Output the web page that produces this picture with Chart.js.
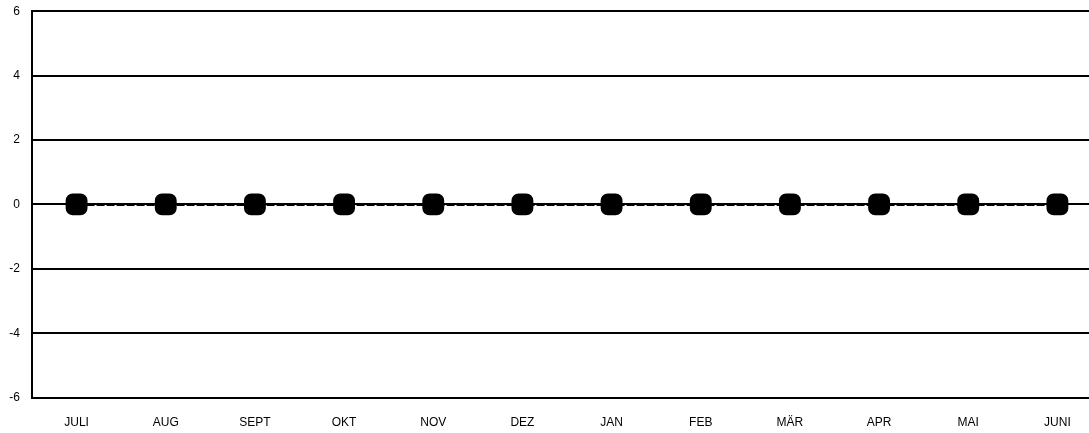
<!DOCTYPE html>
<html>
<head>
<meta charset="utf-8">
<script src="https://cdn.jsdelivr.net/npm/chart.js@4/dist/chart.umd.min.js"></script>
<style>
  html, body { margin: 0; padding: 0; background: #fff; overflow: hidden; }
  #wrap { width: 1116px; height: 441px; margin-top: -8px; }
</style>
</head>
<body>
<div id="wrap"><canvas id="chart" width="1116" height="441"></canvas></div>
<script>
// Months (German fiscal year, July to June)
const months = ["JULI", "AUG", "SEPT", "OKT", "NOV", "DEZ", "JAN", "FEB", "MÄR", "APR", "MAI", "JUNI"];
// Series values, all zero in the picture
const values = [0, 0, 0, 0, 0, 0, 0, 0, 0, 0, 0, 0];
// Y axis range and step
const yMin = -6;
const yMax = 6;
const yStep = 2;

const ctx = document.getElementById("chart");

new Chart(ctx, {
  type: "line",
  data: {
    labels: months,
    datasets: [
      {
        label: "Werte",
        data: values,
        borderColor: "#000",
        backgroundColor: "#000",
        borderWidth: 3,
        borderDash: [8, 2],
        pointStyle: "rectRounded",
        pointRadius: 11,
        pointHoverRadius: 11,
        pointBackgroundColor: "#000",
        pointBorderColor: "#000",
        tension: 0,
      },
    ],
  },
  options: {
    responsive: false,
    animation: false,
    devicePixelRatio: 1,
    layout: { padding: { top: 0, right: 0, bottom: -15, left: 0 } },
    plugins: {
      legend: { display: false },
      tooltip: { enabled: false },
    },
    scales: {
      x: {
        offset: true,
        grid: { display: false, drawTicks: false },
        border: { display: false },
        ticks: {
          color: "#000",
          font: { family: "Liberation Sans, Arial", size: 12 },
          padding: 18,
          maxRotation: 0,
          autoSkip: false,
        },
      },
      y: {
        min: yMin,
        max: yMax,
        afterFit: (scale) => {
          scale.width = 32;
        },
        grid: { color: "#000", lineWidth: 2, drawTicks: false },
        border: { display: true, color: "#000", width: 2 },
        ticks: {
          stepSize: yStep,
          color: "#000",
          font: { family: "Liberation Sans, Arial", size: 12 },
          padding: 12,
        },
      },
    },
  },
});
</script>
</body>
</html>
